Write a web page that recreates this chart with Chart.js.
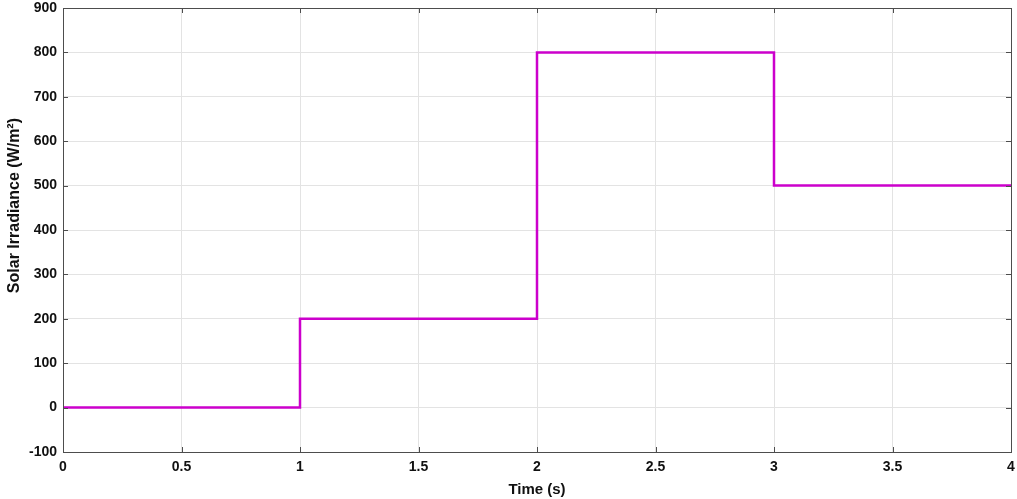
<!DOCTYPE html>
<html>
<head>
<meta charset="utf-8">
<script src="https://cdn.jsdelivr.net/npm/chart.js@4/dist/chart.umd.min.js"></script>
<style>
html, body { margin: 0; padding: 0; background: #fff; }
#wrap { width: 1017px; height: 499px; }
</style>
</head>
<body>
<div id="wrap"><canvas id="irr"></canvas></div>
<script>
// step input: irradiance held from each time until the next one
var time_s = [0, 1, 2, 3, 4];
var irradiance = [0, 200, 800, 500, 500];
var xTicks = [0, 0.5, 1, 1.5, 2, 2.5, 3, 3.5, 4];
var yTicks = [-100, 0, 100, 200, 300, 400, 500, 600, 700, 800, 900];

var points = [];
for (var i = 0; i < time_s.length; i++) {
	points.push({ x: time_s[i], y: irradiance[i] });
}

var axisColor = '#4d4d4d';
var tickFont = { family: 'Liberation Sans, Arial, sans-serif', size: 14, weight: 'bold' };
var titleFont = { family: 'Liberation Sans, Arial, sans-serif', size: 15, weight: 'bold' };

// box round the plot and short tick marks pointing inward
var frameTicks = {
	id: 'frameTicks',
	afterDatasetsDraw: function(chart) {
		var ctx = chart.ctx, a = chart.chartArea;
		var xs = chart.scales.x, ys = chart.scales.y;
		var len = 5;
		ctx.save();
		ctx.strokeStyle = axisColor;
		ctx.lineWidth = 1;
		ctx.beginPath();
		xTicks.forEach(function(v) {
			var px = Math.round(xs.getPixelForValue(v)) + 0.5;
			ctx.moveTo(px, a.bottom); ctx.lineTo(px, a.bottom - len);
			ctx.moveTo(px, a.top); ctx.lineTo(px, a.top + len);
		});
		yTicks.forEach(function(v) {
			var py = Math.round(ys.getPixelForValue(v)) + 0.5;
			ctx.moveTo(a.left, py); ctx.lineTo(a.left + len, py);
			ctx.moveTo(a.right, py); ctx.lineTo(a.right - len, py);
		});
		ctx.stroke();
		ctx.strokeRect(Math.round(a.left) + 0.5, Math.round(a.top) + 0.5,
			Math.round(a.right - a.left), Math.round(a.bottom - a.top));
		ctx.restore();
	}
};

new Chart(document.getElementById('irr'), {
	type: 'line',
	data: {
		datasets: [{
			data: points,
			stepped: 'before',
			borderColor: '#cc00cc',
			borderWidth: 2.5,
			pointRadius: 0,
			fill: false
		}]
	},
	options: {
		responsive: true,
		maintainAspectRatio: false,
		animation: false,
		layout: { padding: { top: 8, right: 6, left: 0, bottom: 0 } },
		plugins: { legend: { display: false }, tooltip: { enabled: false } },
		scales: {
			x: {
				type: 'linear',
				min: 0, max: 4,
				afterBuildTicks: function(scale) {
					scale.ticks = xTicks.map(function(v) { return { value: v }; });
				},
				afterFit: function(scale) {
					scale.height = 47;
					scale.paddingLeft = 0;
					scale.paddingRight = 0;
				},
				grid: { color: '#e3e3e3', drawTicks: false },
				border: { display: false },
				ticks: { color: '#111', font: tickFont, padding: 7, maxRotation: 0,
					callback: function(v) { return String(v); } },
				title: { display: true, text: 'Time (s)', color: '#111', font: titleFont,
					padding: { top: 0, bottom: 0 } }
			},
			y: {
				type: 'linear',
				min: -100, max: 900,
				afterBuildTicks: function(scale) {
					scale.ticks = yTicks.map(function(v) { return { value: v }; });
				},
				afterFit: function(scale) {
					scale.width = 63;
					scale.paddingTop = 0;
					scale.paddingBottom = 0;
				},
				grid: { color: '#e3e3e3', drawTicks: false },
				border: { display: false },
				ticks: { color: '#111', font: tickFont, padding: 6,
					callback: function(v) { return String(v); } },
				// leading spaces lift the label a little, as in the original
				title: { display: true, text: '           Solar Irradiance (W/m\u00b2)', color: '#111',
					font: { family: 'Liberation Sans, Arial, sans-serif', size: 16, weight: 'bold' },
					padding: { top: 5, bottom: 0 } }
			}
		}
	},
	plugins: [frameTicks]
});
</script>
</body>
</html>
